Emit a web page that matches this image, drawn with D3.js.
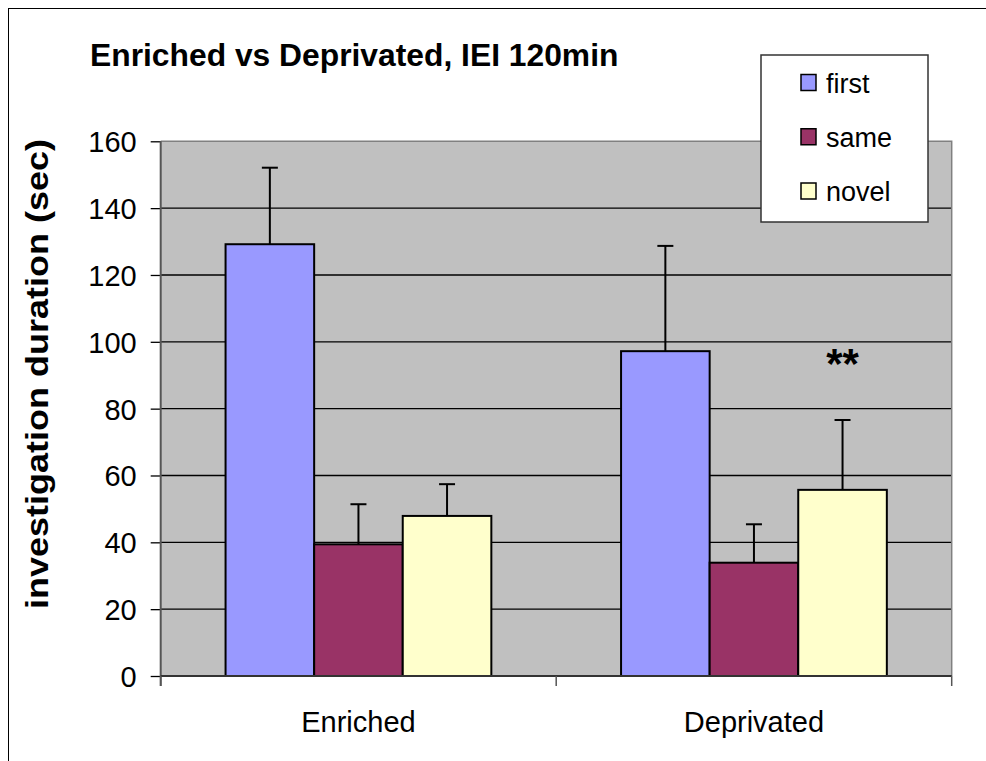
<!DOCTYPE html>
<html><head><meta charset="utf-8">
<script src="https://cdn.jsdelivr.net/npm/d3@7"></script>
<style>body{margin:0;background:#fff}svg{display:block;font-family:"Liberation Sans",Arial,sans-serif}</style>
</head><body><svg id="c" width="986" height="761"></svg>
<script>
const categories = ["Enriched", "Deprivated"];
const seriesNames = ["first", "same", "novel"];
const seriesColors = ["#9999FF", "#993366", "#FFFFCC"];
const firstValues = [129.2, 97.2];
const firstErrors = [22.9, 31.5];
const sameValues = [39.4, 33.9];
const sameErrors = [12.0, 11.5];
const novelValues = [47.9, 55.7];
const novelErrors = [9.5, 20.9];
const yTicks = [0, 20, 40, 60, 80, 100, 120, 140, 160];
const titleText = "Enriched vs Deprivated, IEI 120min";
const yTitleText = "investigation duration (sec)";
const annotation = {category: "Deprivated", series: "novel", text: "**"};

const values = [firstValues, sameValues, novelValues];
const errors = [firstErrors, sameErrors, novelErrors];
const rows = [];
seriesNames.forEach((s, i) => categories.forEach((c, j) => rows.push({series: s, cat: c, v: values[i][j], e: errors[i][j], color: seriesColors[i]})));

const svg = d3.select("#c");
const L = 160.7, R = 951.7, T = 141.3, B = 676;

svg.append("rect").attr("x", 8.5).attr("y", 8.5).attr("width", 1200).attr("height", 1000)
  .attr("fill", "#fff").attr("stroke", "#000").attr("stroke-width", 1);

const x0 = d3.scaleBand().domain(categories).range([L, R]).paddingInner(0.328).paddingOuter(0.164);
const x1 = d3.scaleBand().domain(seriesNames).range([0, x0.bandwidth()]);
const y = d3.scaleLinear().domain([0, 160]).range([B, T]);

svg.append("rect").attr("x", L).attr("y", T).attr("width", R - L).attr("height", B - T)
  .attr("fill", "#C0C0C0");

svg.append("g").selectAll("line").data(yTicks.filter(t => t > 0 && t < 160)).join("line")
  .attr("x1", L).attr("x2", R).attr("y1", d => y(d)).attr("y2", d => y(d))
  .attr("stroke", "#000").attr("stroke-width", 1.3);

svg.append("path").attr("d", `M${L},${T}H${R}V${B}`).attr("fill", "none")
  .attr("stroke", "#808080").attr("stroke-width", 1.5);

svg.append("g").selectAll("rect").data(rows).join("rect")
  .attr("x", d => x0(d.cat) + x1(d.series))
  .attr("y", d => y(d.v))
  .attr("width", x1.bandwidth())
  .attr("height", d => y(0) - y(d.v))
  .attr("fill", d => d.color).attr("stroke", "#000").attr("stroke-width", 2);

const eg = svg.append("g").attr("stroke", "#000").attr("stroke-width", 2);
rows.forEach(d => {
  const cx = x0(d.cat) + x1(d.series) + x1.bandwidth() / 2;
  eg.append("line").attr("x1", cx).attr("x2", cx).attr("y1", y(d.v)).attr("y2", y(d.v + d.e));
  eg.append("line").attr("x1", cx - 8).attr("x2", cx + 8).attr("y1", y(d.v + d.e)).attr("y2", y(d.v + d.e));
});

const yAxis = d3.axisLeft(y).tickValues(yTicks).tickSize(10).tickPadding(14);
const yg = svg.append("g").attr("transform", `translate(${L},0)`).call(yAxis);
yg.select(".domain").remove();
yg.selectAll(".tick line").attr("stroke", "#000").attr("stroke-width", 1.3);
yg.selectAll(".tick text").attr("font-size", 29).attr("fill", "#000")
  .attr("font-family", "Liberation Sans, Arial, sans-serif").attr("dy", "0.36em");
svg.append("line").attr("x1", L).attr("x2", L).attr("y1", T).attr("y2", B + 10)
  .attr("stroke", "#555").attr("stroke-width", 2);

svg.append("line").attr("x1", L).attr("x2", R).attr("y1", B).attr("y2", B)
  .attr("stroke", "#333").attr("stroke-width", 2);
const bounds = [L, ...categories.map(c => x0(c) + x0.bandwidth() / 2 + x0.step() / 2)];
svg.append("g").selectAll("line").data(bounds).join("line")
  .attr("x1", d => d).attr("x2", d => d).attr("y1", B).attr("y2", B + 10)
  .attr("stroke", "#555").attr("stroke-width", 1.5);
svg.append("g").selectAll("text").data(categories).join("text")
  .attr("x", d => x0(d) + x0.bandwidth() / 2).attr("y", 732)
  .attr("text-anchor", "middle").attr("font-size", 29).text(d => d);

svg.append("text").attr("x", 90).attr("y", 66).attr("font-size", 31.8).attr("font-weight", "bold").text(titleText);

svg.append("text").attr("transform", `translate(48,374) rotate(-90)`)
  .attr("text-anchor", "middle").attr("font-size", 31).attr("font-weight", "bold")
  .attr("textLength", 470).attr("lengthAdjust", "spacingAndGlyphs").text(yTitleText);

const ad = rows.find(r => r.cat === annotation.category && r.series === annotation.series);
svg.append("text").attr("x", x0(ad.cat) + x1(ad.series) + x1.bandwidth() / 2).attr("y", 378)
  .attr("text-anchor", "middle").attr("font-size", 42).attr("font-weight", "bold").text(annotation.text);

const lg = svg.append("g");
lg.append("rect").attr("x", 761).attr("y", 55).attr("width", 167).attr("height", 167)
  .attr("fill", "#fff").attr("stroke", "#333").attr("stroke-width", 1.5);
const ly = d3.scalePoint().domain(seriesNames).range([82.5, 191]);
seriesNames.forEach((s, i) => {
  lg.append("rect").attr("x", 801).attr("y", ly(s) - 8).attr("width", 15).attr("height", 16)
    .attr("fill", seriesColors[i]).attr("stroke", "#000").attr("stroke-width", 1.5);
  lg.append("text").attr("x", 826).attr("y", ly(s) + 10).attr("font-size", 27).text(s);
});
</script></body></html>
